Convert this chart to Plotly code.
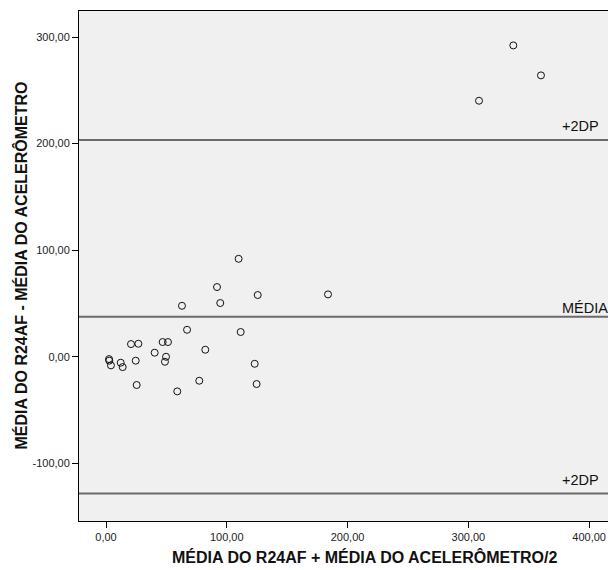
import plotly.graph_objects as go

# Data (Bland-Altman plot)
media_x = [337.2, 360.1, 308.8, 109.8, 91.9, 94.6, 125.6, 183.8, 62.9, 67.1,
           111.5, 20.7, 26.8, 46.9, 51.3, 40.3, 82.2, 2.5, 2.7, 4.1,
           12.2, 13.8, 24.6, 49.7, 48.8, 123.1, 25.4, 59.0, 77.2, 124.7]
diferenca_y = [292.1, 264.0, 240.2, 91.9, 65.4, 50.4, 57.9, 58.5, 47.8, 25.3,
               23.2, 11.9, 12.2, 13.8, 13.8, 3.8, 6.6, -2.2, -3.7, -8.1,
               -5.6, -9.7, -3.7, 0.0, -4.7, -6.6, -26.5, -32.5, -22.5, -25.6]

ref_labels = ["+2DP", "MÉDIA", "+2DP"]
ref_values = [203.3, 37.5, -128.3]

x_tickvals = [0, 100, 200, 300, 400]
x_ticktext = ["0,00", "100,00", "200,00", "300,00", "400,00"]
y_tickvals = [-100, 0, 100, 200, 300]
y_ticktext = ["-100,00", "0,00", "100,00", "200,00", "300,00"]

x_title = "MÉDIA DO R24AF + MÉDIA DO ACELERÔMETRO/2"
y_title = "MÉDIA DO R24AF - MÉDIA DO ACELERÔMETRO"

FONT = "Liberation Sans, Arial, sans-serif"
label_shift = [14, 9, 14]

fig = go.Figure()
fig.add_trace(go.Scatter(
    x=media_x, y=diferenca_y, mode="markers",
    marker=dict(symbol="circle-open", size=7, color="#111111",
                line=dict(width=1, color="#111111")),
    hoverinfo="skip", showlegend=False,
))

for lab, val, sh in zip(ref_labels, ref_values, label_shift):
    fig.add_shape(type="line", xref="paper", x0=0, x1=1, yref="y", y0=val, y1=val,
                  line=dict(color="#6a6a6a", width=2), layer="above")
    fig.add_annotation(text=lab, xref="paper", x=0.910, xanchor="left",
                       yref="y", y=val, yanchor="middle", yshift=sh,
                       showarrow=False, font=dict(family=FONT, size=14.5, color="#111111"))

fig.add_annotation(text=x_title, xref="paper", x=0.5406, xanchor="center",
                   yref="paper", y=-0.0706, yanchor="middle", showarrow=False,
                   font=dict(family=FONT, size=16, color="#111111", weight="bold"))
fig.add_annotation(text=y_title, xref="paper", x=-0.1078, xanchor="center",
                   yref="paper", y=0.501, yanchor="middle", textangle=-90,
                   showarrow=False,
                   font=dict(family=FONT, size=16, color="#111111", weight="bold"))

fig.update_layout(
    width=608, height=570,
    margin=dict(l=79, r=0, t=11, b=49),
    paper_bgcolor="white", plot_bgcolor="#f0f0f0",
    font=dict(family=FONT, size=11, color="#222222"),
    showlegend=False,
)
fig.update_xaxes(range=[-22.35, 415.6], tickvals=x_tickvals, ticktext=x_ticktext,
                 showgrid=False, zeroline=False, showline=True, linecolor="black",
                 linewidth=1, mirror=True, ticks="outside", ticklen=6,
                 tickcolor="black", tickfont=dict(family=FONT, size=11, color="#222222"))
fig.update_yaxes(range=[-154.1, 324.4], tickvals=y_tickvals, ticktext=y_ticktext,
                 showgrid=False, zeroline=False, showline=True, linecolor="black",
                 linewidth=1, mirror=False, ticks="outside", ticklen=6,
                 tickcolor="black", tickfont=dict(family=FONT, size=11, color="#222222"))

# remove the default 8px body margin so the figure fills the 608x570 window
fig.write_html("out.html",
               config={"displayModeBar": False},
               post_script="document.body.style.margin='0px';document.body.style.overflow='hidden';")
